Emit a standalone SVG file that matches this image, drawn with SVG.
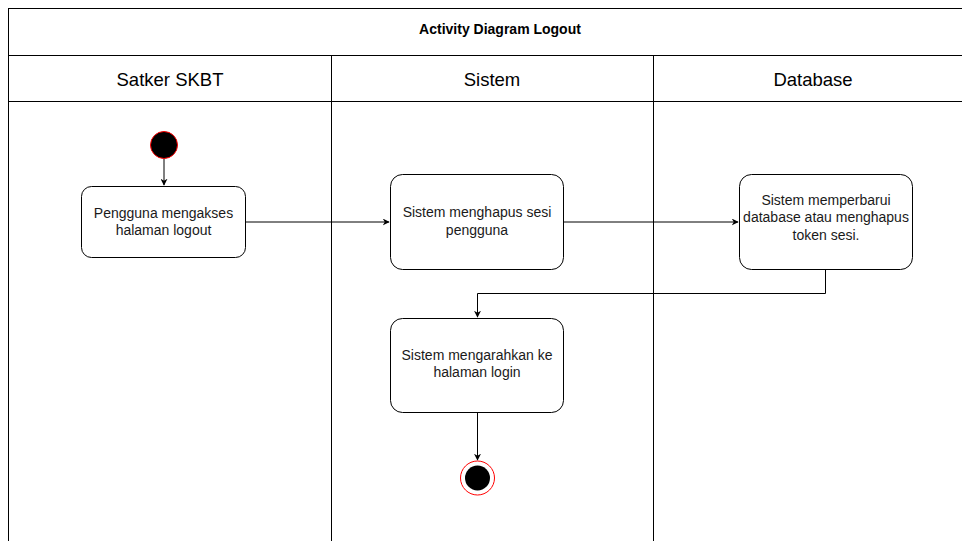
<svg xmlns="http://www.w3.org/2000/svg" width="962" height="541" viewBox="0 0 962 541">
  <defs>
    <marker id="arrow" viewBox="0 0 10 10" refX="9" refY="5" markerWidth="7" markerHeight="7" orient="auto" markerUnits="userSpaceOnUse">
      <path d="M0,0 L10,5 L0,10 L3,5 Z" fill="#000"/>
    </marker>
    <style>
      .lane { fill: #fff; stroke: #000; stroke-width: 1; }
      .act { fill: #fff; stroke: #000; stroke-width: 1; }
      .lbl { font-family: "Liberation Sans", Arial, sans-serif; font-size: 14px; fill: #1a1a1a; text-anchor: middle; }
      .head { font-family: "Liberation Sans", Arial, sans-serif; font-size: 18.5px; fill: #000; text-anchor: middle; }
      .title { font-family: "Liberation Sans", Arial, sans-serif; font-size: 14px; font-weight: bold; fill: #000; text-anchor: middle; }
      .edge { fill: none; stroke: #000; stroke-width: 1; }
    </style>
  </defs>
  <rect width="962" height="541" fill="#fff"/>

  <!-- swimlane frame -->
  <g id="pool">
    <rect class="lane" x="8.5" y="8.5" width="960" height="560"/>
    <line class="lane" x1="8.5" y1="55.5" x2="962" y2="55.5"/>
    <line class="lane" x1="8.5" y1="101.5" x2="962" y2="101.5"/>
    <line class="lane" x1="331.5" y1="55.5" x2="331.5" y2="541"/>
    <line class="lane" x1="653.5" y1="55.5" x2="653.5" y2="541"/>
    <text class="title" x="500" y="34">Activity Diagram Logout</text>
    <text class="head" x="170" y="86">Satker SKBT</text>
    <text class="head" x="492" y="86">Sistem</text>
    <text class="head" x="813" y="86">Database</text>
  </g>

  <!-- connectors -->
  <g id="edges">
    <path class="edge" d="M164,159 L164,185" marker-end="url(#arrow)"/>
    <path class="edge" d="M245,222 L389,222" marker-end="url(#arrow)"/>
    <path class="edge" d="M563,222 L738,222" marker-end="url(#arrow)"/>
    <path class="edge" d="M825.5,269 L825.5,293.5 L477.5,293.5 L477.5,317" marker-end="url(#arrow)"/>
    <path class="edge" d="M477.5,412 L477.5,460" marker-end="url(#arrow)"/>
  </g>

  <g id="start">
    <circle cx="164" cy="145" r="13.5" fill="#000" stroke="#ff0000" stroke-width="1"/>
  </g>

  <g id="akses-logout">
    <rect class="act" x="81.5" y="186.5" width="164" height="71" rx="10"/>
    <text class="lbl" x="163.5" y="218">Pengguna mengakses</text>
    <text class="lbl" x="163.5" y="235">halaman logout</text>
  </g>

  <g id="hapus-sesi">
    <rect class="act" x="390.5" y="174.5" width="173" height="95" rx="12"/>
    <text class="lbl" x="477" y="217">Sistem menghapus sesi</text>
    <text class="lbl" x="477" y="235">pengguna</text>
  </g>

  <g id="perbarui-db">
    <rect class="act" x="739.5" y="174.5" width="173" height="95" rx="12"/>
    <text class="lbl" x="826" y="205">Sistem memperbarui</text>
    <text class="lbl" x="826" y="222">database atau menghapus</text>
    <text class="lbl" x="826" y="240">token sesi.</text>
  </g>

  <g id="arahkan-login">
    <rect class="act" x="390.5" y="318.5" width="173" height="94" rx="12"/>
    <text class="lbl" x="477" y="360">Sistem mengarahkan ke</text>
    <text class="lbl" x="477" y="377">halaman login</text>
  </g>

  <g id="end">
    <circle cx="477.5" cy="478" r="17" fill="#fff" stroke="#ff0000" stroke-width="1"/>
    <circle cx="477.5" cy="478" r="12.5" fill="#000"/>
  </g>
</svg>
